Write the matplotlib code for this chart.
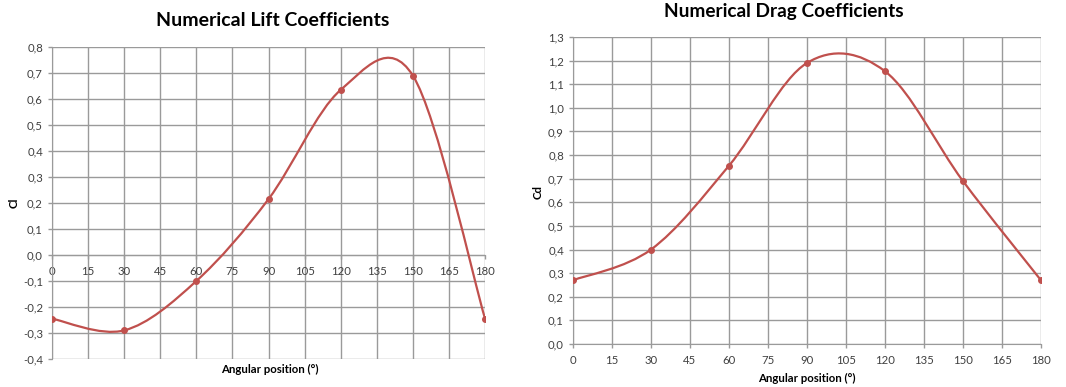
import matplotlib
matplotlib.use("Agg")
import matplotlib.pyplot as plt
from matplotlib.path import Path
from matplotlib.patches import PathPatch
from matplotlib.ticker import FuncFormatter, MultipleLocator

plt.rcParams['font.family'] = ['Lato', 'DejaVu Sans']

# Angular positions (degrees) and coefficients
angles = [0, 30, 60, 90, 120, 150, 180]
lift_cl = [-0.245, -0.29, -0.10, 0.215, 0.635, 0.69, -0.245]
drag_cd = [0.27, 0.40, 0.755, 1.19, 1.155, 0.69, 0.27]
x_ticks = list(range(0, 181, 15))

LINE = '#C0504D'
GRID = '#9a9a9a'
TXT = '#404040'


def smooth_path(xs, ys):
    """Excel-style smoothed line: cubic Bezier segments with Catmull-Rom tangents."""
    n = len(xs)
    verts = [(xs[0], ys[0])]
    codes = [Path.MOVETO]
    for i in range(n - 1):
        x0, y0 = (xs[i - 1], ys[i - 1]) if i > 0 else (xs[i], ys[i])
        x3, y3 = (xs[i + 2], ys[i + 2]) if i + 2 < n else (xs[i + 1], ys[i + 1])
        c1 = (xs[i] + (xs[i + 1] - x0) / 6, ys[i] + (ys[i + 1] - y0) / 6)
        c2 = (xs[i + 1] - (x3 - xs[i]) / 6, ys[i + 1] - (y3 - ys[i]) / 6)
        verts += [c1, c2, (xs[i + 1], ys[i + 1])]
        codes += [Path.CURVE4] * 3
    return Path(verts, codes)


def comma(v, _pos):
    return f"{v:.1f}".replace('.', ',').replace('-0,0', '0,0')


def style(ax, ymin, ymax):
    ax.set_xlim(0, 180)
    ax.set_ylim(ymin, ymax)
    ax.xaxis.set_major_locator(MultipleLocator(15))
    ax.yaxis.set_major_locator(MultipleLocator(0.1))
    ax.yaxis.set_major_formatter(FuncFormatter(comma))
    ax.grid(True, color=GRID, linewidth=1.0)
    ax.set_axisbelow(True)
    for s in ('top', 'right'):
        ax.spines[s].set_visible(False)
    ax.spines['left'].set_color(GRID)
    ax.spines['bottom'].set_color(GRID)
    ax.tick_params(axis='both', colors=GRID, labelcolor=TXT, labelsize=8.2,
                   length=3, width=1, direction='out')


fig = plt.figure(figsize=(10.66, 3.87), dpi=100)

# Lift coefficients
ax1 = fig.add_axes([0.0488, 0.0724, 0.4062, 0.8062])
style(ax1, -0.4, 0.8)
ax1.spines['bottom'].set_position(('data', 0.0))
ax1.tick_params(axis='x', pad=5)
ax1.add_patch(PathPatch(smooth_path(angles, lift_cl), fill=False,
                        edgecolor=LINE, linewidth=1.6, zorder=3))
ax1.plot(angles, lift_cl, 'o', color=LINE, markersize=4, zorder=4)
fig.text(0.256, 0.948, 'Numerical Lift Coefficients', ha='center', va='center',
         fontsize=14, fontweight='bold', color='black')
fig.text(0.013, 0.476, 'Cl', ha='center', va='center', rotation=90,
         fontsize=8.2, fontweight='bold', color='black')
fig.text(0.253, 0.044, 'Angular position (°)', ha='center', va='center',
         fontsize=8.2, fontweight='bold', color='black')

# Drag coefficients
ax2 = fig.add_axes([0.5375, 0.1111, 0.4390, 0.7933])
style(ax2, 0.0, 1.3)
ax2.tick_params(axis='x', pad=5)
ax2.add_patch(PathPatch(smooth_path(angles, drag_cd), fill=False,
                        edgecolor=LINE, linewidth=1.6, zorder=3))
ax2.plot(angles, drag_cd, 'o', color=LINE, markersize=4, zorder=4)
fig.text(0.7355, 0.971, 'Numerical Drag Coefficients', ha='center', va='center',
         fontsize=13.7, fontweight='bold', color='black')
fig.text(0.505, 0.504, 'Cd', ha='center', va='center', rotation=90,
         fontsize=8.2, fontweight='bold', color='black')
fig.text(0.757, 0.023, 'Angular position (°)', ha='center', va='center',
         fontsize=8.2, fontweight='bold', color='black')

for ax in (ax1, ax2):
    ax.set_xticks(x_ticks)

fig.savefig('out.png', dpi=100, facecolor='white')
